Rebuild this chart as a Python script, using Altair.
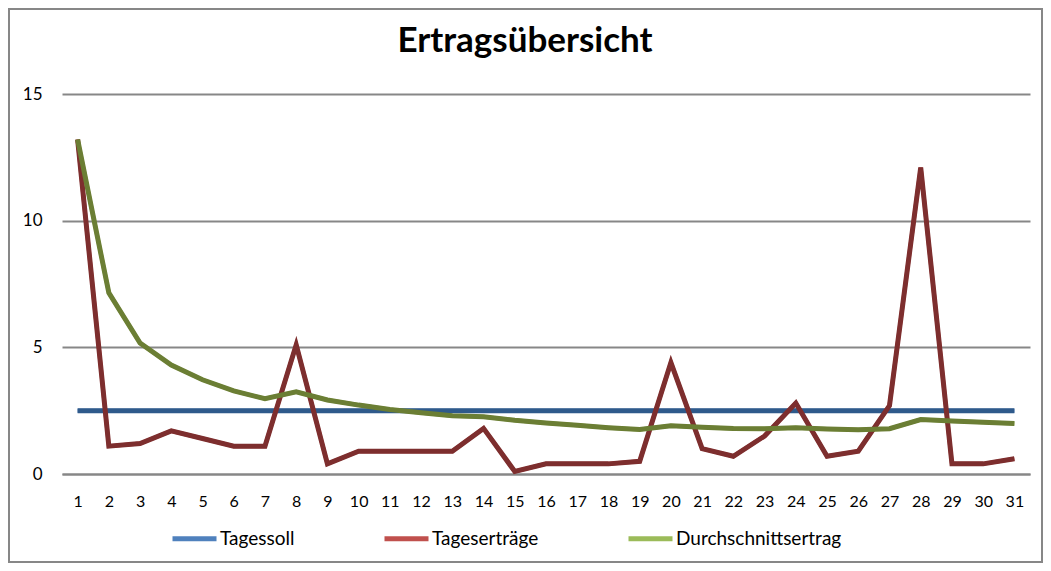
import altair as alt
import pandas as pd

days = list(range(1, 32))
series_names = ["Tagessoll", "Tageserträge", "Durchschnittsertrag"]
tagessoll = [2.5, 2.5, 2.5, 2.5, 2.5, 2.5, 2.5, 2.5, 2.5, 2.5, 2.5, 2.5, 2.5, 2.5, 2.5, 2.5,
             2.5, 2.5, 2.5, 2.5, 2.5, 2.5, 2.5, 2.5, 2.5, 2.5, 2.5, 2.5, 2.5, 2.5, 2.5]
tagesertraege = [13.2, 1.1, 1.2, 1.7, 1.4, 1.1, 1.1, 5.1, 0.4, 0.9, 0.9, 0.9, 0.9, 1.8, 0.1, 0.4,
                 0.4, 0.4, 0.5, 4.4, 1.0, 0.7, 1.5, 2.8, 0.7, 0.9, 2.7, 12.1, 0.4, 0.4, 0.6]
durchschnitt = [13.2, 7.15, 5.17, 4.30, 3.72, 3.28, 2.97, 3.24, 2.92, 2.72, 2.55, 2.42, 2.30, 2.26, 2.12, 2.01,
                1.92, 1.83, 1.76, 1.90, 1.85, 1.80, 1.79, 1.83, 1.78, 1.75, 1.79, 2.15, 2.09, 2.04, 1.99]
y_ticks = [0, 5, 10, 15]
title_text = ["Ertragsübersicht"]

legend_colors = ["#4F81BD", "#C0504D", "#9BBB59"]
line_colors = ["#2F5A8B", "#7D2E2E", "#6B7E34"]

rows = []
for name, vals in zip(series_names, [tagessoll, tagesertraege, durchschnitt]):
    for d, v in zip(days, vals):
        rows.append({"Tag": d, "Wert": v, "Reihe": name})
df = pd.DataFrame(rows)

FONT = "Lato"

x_enc = alt.X("Tag:O", scale=alt.Scale(type="point", padding=0.5),
              axis=alt.Axis(title=None, labelAngle=0, ticks=False, labelPadding=19,
                            labelFont=FONT, labelFontSize=16, labelColor="black",
                            domainColor="#878787", domainWidth=2, grid=False))
y_enc = alt.Y("Wert:Q", scale=alt.Scale(domain=[0, 15], nice=False),
              axis=alt.Axis(title=None, values=y_ticks, ticks=False, domain=False, labelPadding=20,
                            labelFont=FONT, labelFontSize=17, labelColor="black",
                            gridColor="#878787", gridWidth=2))

base = alt.Chart(df)

legend_layer = base.mark_line(strokeWidth=4).encode(
    x=x_enc, y=y_enc,
    color=alt.Color("Reihe:N", scale=alt.Scale(domain=series_names, range=legend_colors),
                    legend=alt.Legend(orient="none", legendX=108, legendY=420, direction="horizontal",
                                      title=None, symbolType="stroke", symbolSize=1936,
                                      symbolStrokeWidth=5, symbolOpacity=1, labelFont=FONT,
                                      labelFontSize=19, labelColor="black", columnPadding=79,
                                      labelOffset=1, labelLimit=400)),
)

dark_layers = [
    base.transform_filter(alt.datum.Reihe == name).mark_line(strokeWidth=5, color=col).encode(x=x_enc, y=y_enc)
    for name, col in zip(series_names, line_colors)
]

frame = alt.Chart(pd.DataFrame({"a": [0]})).mark_rect(fill=None, stroke="#878787", strokeWidth=2, clip=False).encode(
    x=alt.value(-53), x2=alt.value(968 + 12), y=alt.value(-85), y2=alt.value(380 + 88)
)

title = alt.Chart(pd.DataFrame({"t": title_text})).mark_text(
    font=FONT, fontSize=35, fontWeight="bold", color="black", align="center", baseline="alphabetic"
).encode(text="t:N", x=alt.value(463), y=alt.value(-42))

chart = alt.layer(legend_layer, *dark_layers, frame, title).properties(
    width=968, height=380,
    autosize="none",
    padding={"left": 54, "top": 86, "right": 13, "bottom": 89},
).configure_view(stroke=None)

chart.save("out.html", embed_options={"renderer": "svg", "actions": False})
